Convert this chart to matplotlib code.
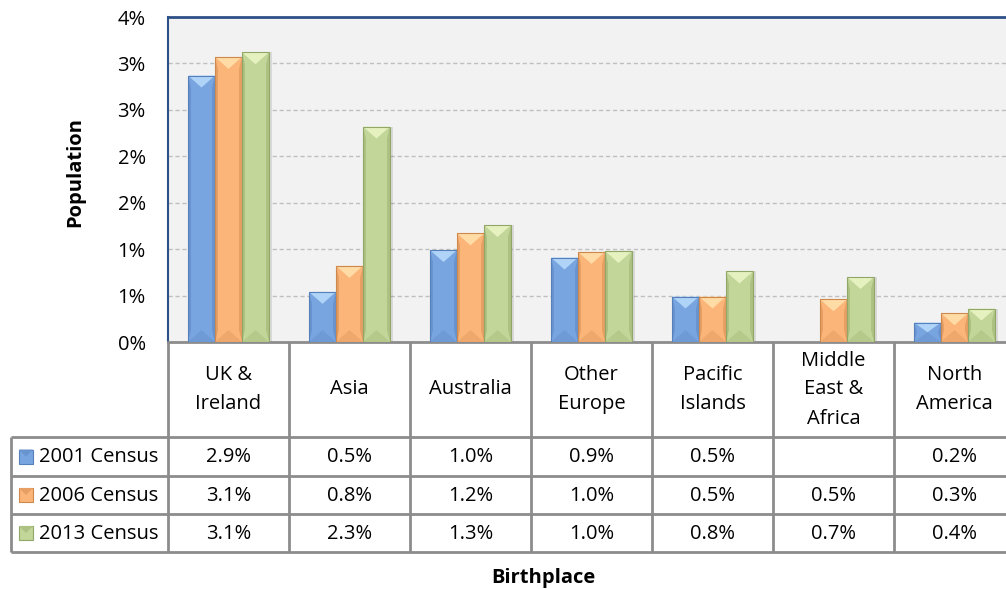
#!/usr/bin/env python3
"""Birthplace of overseas-born population by census: bevelled bars plus data table."""

import math

import matplotlib

matplotlib.use("Agg")
import matplotlib.pyplot as plt  # noqa: E402
import numpy as np  # noqa: E402
from matplotlib.patches import Polygon, Rectangle  # noqa: E402
from matplotlib.ticker import FuncFormatter, MultipleLocator  # noqa: E402

CATEGORIES = [
    "UK &\nIreland",
    "Asia",
    "Australia",
    "Other\nEurope",
    "Pacific\nIslands",
    "Middle\nEast &\nAfrica",
    "North\nAmerica",
]
SERIES = ["2001 Census", "2006 Census", "2013 Census"]
# share of population, in percent (2001 has no Middle East & Africa figure)
CENSUS_2001 = [2.87, 0.54, 0.99, 0.91, 0.49, np.nan, 0.21]
CENSUS_2006 = [3.07, 0.82, 1.17, 0.97, 0.49, 0.46, 0.31]
CENSUS_2013 = [3.12, 2.32, 1.26, 0.98, 0.76, 0.70, 0.36]
Y_MAX = 3.5

# body, light top facet, side facets, bottom facet, outline
PALETTES = [
    ("#78A5E0", "#B0D4F8", "#6893CE", "#6E9AD6", "#5580BA"),
    ("#FBB579", "#FFDBA6", "#E79F63", "#EFA86C", "#CF884C"),
    ("#C2D699", "#E6F1C0", "#ACC182", "#B5C98B", "#91A767"),
]

W, H = 1006, 589
PLOT_L, PLOT_T, PLOT_B = 168, 17, 342
COL_W = 121
ROW_Y = [342, 437, 476, 514, 552]
LEGEND_L = 11
BAR_PX = 27
BEVEL_PX = 12
SIDE_PX = 3
TABLE_C = "#8C8C8C"
FRAME_C = "#2E5088"
FS = 14.5

plt.rcParams["font.family"] = ["Open Sans", "DejaVu Sans"]
plt.rcParams["font.size"] = FS


def pct_label(v, _pos):
    # Excel-style rounding of the 0.5% steps (0.5 -> 1%, 2.5 -> 3%)
    return f"{math.floor(v + 0.5 + 1e-9):d}%"


def bevel_bars(ax, xs, vals, width, pal):
    body, top, side, bottom, edge = pal
    ok = ~np.isnan(vals)
    xs, vals = xs[ok], vals[ok]
    ppx = width / BAR_PX  # data units per pixel along x
    ppy = Y_MAX / (PLOT_B - PLOT_T)  # data units per pixel along y
    ax.bar(xs + 3 * ppx, vals, width=width, color="#000000", alpha=0.10, zorder=2)
    ax.bar(xs, vals, width=width, color=body, edgecolor="none", zorder=3)
    bev = BEVEL_PX * ppy
    s = SIDE_PX * ppx
    for x, v in zip(xs, vals):
        x0, x1 = x - width / 2, x + width / 2
        b = min(bev, v / 2)
        ax.add_patch(Polygon([(x0, 0), (x0 + s, b), (x0 + s, v - b), (x0, v)], color=side, lw=0, zorder=4))
        ax.add_patch(Polygon([(x1, 0), (x1 - s, b), (x1 - s, v - b), (x1, v)], color=side, lw=0, zorder=4))
        ax.add_patch(Polygon([(x0, v), (x1, v), (x, v - b)], color=top, lw=0, zorder=4))
        ax.add_patch(Polygon([(x0, 0), (x1, 0), (x, b)], color=bottom, lw=0, zorder=4))
        ax.add_patch(Rectangle((x0, 0), width, v, fill=False, ec=edge, lw=0.8, zorder=5))


def main():
    n = len(CATEGORIES)
    series_vals = [np.array(CENSUS_2001), np.array(CENSUS_2006), np.array(CENSUS_2013)]

    fig = plt.figure(figsize=(W / 100, H / 100), dpi=100)
    fig.patch.set_facecolor("white")

    ax = fig.add_axes([PLOT_L / W, 1 - PLOT_B / H, n * COL_W / W, (PLOT_B - PLOT_T) / H])
    ax.set_xlim(-0.5, n - 0.5)
    ax.set_ylim(0, Y_MAX)
    ax.set_facecolor("#F2F2F2")
    ax.yaxis.set_major_locator(MultipleLocator(0.5))
    ax.yaxis.set_major_formatter(FuncFormatter(pct_label))
    ax.yaxis.grid(True, ls=(0, (3, 2)), color="#BFBFBF", lw=1)
    ax.set_axisbelow(True)
    ax.set_xticks([])
    ax.tick_params(axis="y", length=0, pad=16, labelsize=FS)
    ax.spines["top"].set_color(FRAME_C)
    ax.spines["top"].set_linewidth(2)
    ax.spines["left"].set_color(FRAME_C)
    ax.spines["left"].set_linewidth(1.5)
    ax.spines["bottom"].set_color(TABLE_C)
    ax.spines["bottom"].set_linewidth(2)
    ax.spines["right"].set_visible(False)

    bw = BAR_PX / COL_W
    x = np.arange(n, dtype=float)
    for j, (vals, pal) in enumerate(zip(series_vals, PALETTES)):
        bevel_bars(ax, x + (j - 1) * bw, vals, bw, pal)

    fig.text(75 / W, 1 - 172 / H, "Population", rotation=90, ha="center", va="center",
             fontsize=FS, fontweight="bold")

    # data table drawn in pixel coordinates on a transparent overlay
    ov = fig.add_axes([0, 0, 1, 1], zorder=10)
    ov.set_xlim(0, W)
    ov.set_ylim(H, 0)
    ov.axis("off")
    right = PLOT_L + n * COL_W
    kw = {"color": TABLE_C, "lw": 2, "solid_capstyle": "butt"}
    for y in ROW_Y[1:]:
        ov.plot([LEGEND_L, right], [y, y], **kw)
    ov.plot([LEGEND_L, LEGEND_L], [ROW_Y[1], ROW_Y[-1]], **kw)
    for k in range(n + 1):
        xk = PLOT_L + k * COL_W
        ov.plot([xk, xk], [ROW_Y[0], ROW_Y[-1]], **kw)

    for i, cat in enumerate(CATEGORIES):
        xc = PLOT_L + (i + 0.5) * COL_W
        ov.text(xc, (ROW_Y[0] + ROW_Y[1]) / 2, cat, ha="center", va="center",
                linespacing=1.6, fontsize=FS)
        for r, vals in enumerate(series_vals):
            if not np.isnan(vals[i]):
                ov.text(xc, (ROW_Y[r + 1] + ROW_Y[r + 2]) / 2 + 1, f"{vals[i]:.1f}%",
                        ha="center", va="center", fontsize=FS)

    for r, (name, pal) in enumerate(zip(SERIES, PALETTES)):
        yc = (ROW_Y[r + 1] + ROW_Y[r + 2]) / 2
        ov.add_patch(Rectangle((19, yc - 7), 14, 14, fc=pal[0], ec=pal[4], lw=0.8))
        ov.add_patch(Polygon([(19, yc - 7), (33, yc - 7), (26, yc)], color=pal[2], lw=0))
        ov.text(39, yc + 1, name, ha="left", va="center", fontsize=FS)

    ov.text(543, 578, "Birthplace", ha="center", va="center", fontsize=FS, fontweight="bold")

    fig.savefig("out.png", dpi=100)
    plt.close(fig)


if __name__ == "__main__":
    main()
